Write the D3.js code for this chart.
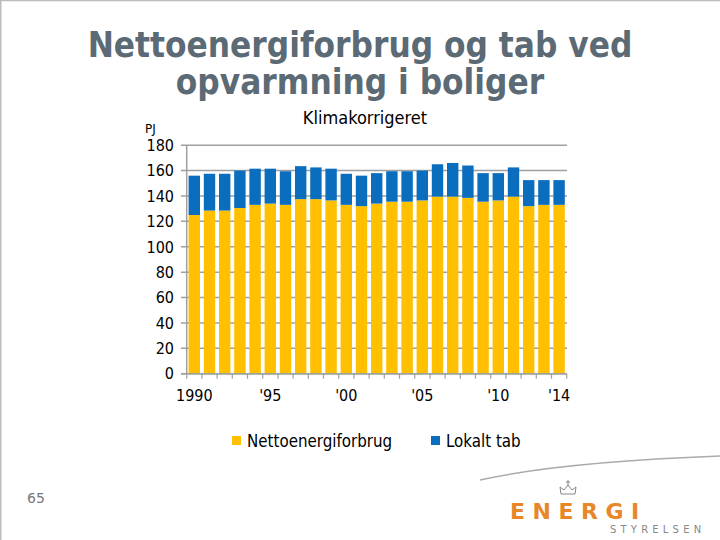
<!DOCTYPE html>
<html><head><meta charset="utf-8">
<script src="https://cdn.jsdelivr.net/npm/d3@7"></script>
<style>html,body{margin:0;padding:0;background:#fff;}svg{display:block;}</style>
</head><body>
<script>
const years = [1990,1991,1992,1993,1994,1995,1996,1997,1998,1999,2000,2001,2002,2003,2004,2005,2006,2007,2008,2009,2010,2011,2012,2013,2014];
const netto = [125,128.5,128.5,130.5,133,134,133,137.5,137.5,136.5,133,132,134,135.5,135.5,136.5,139.5,139.5,138.5,135.5,136.5,139.5,132,133,133];
const lokaltTab = [31,29,29,29.5,28.5,27.5,26.5,26,25,25,24.5,24,24,24,24,23.5,25.5,26.5,25.5,22.5,21.5,23,20.5,19.5,19.5];
const seriesNames = ["Nettoenergiforbrug","Lokalt tab"];
const seriesColors = ["#FFC000","#0B6DBE"];
const yTicks = [0,20,40,60,80,100,120,140,160,180];
const xLabels = {1990:"1990",1995:"'95",2000:"'00",2005:"'05",2010:"'10",2014:"'14"};

const W=720,H=540;
const svg=d3.select("body").append("svg").attr("width",W).attr("height",H);
svg.append("rect").attr("width",W).attr("height",H).attr("fill","#fff");
// slide border
svg.append("line").attr("x1",0).attr("x2",W).attr("y1",0.5).attr("y2",0.5).attr("stroke","#bdbdbd").attr("stroke-width",1.5);
svg.append("line").attr("x1",0.75).attr("x2",0.75).attr("y1",0).attr("y2",H).attr("stroke","#bdbdbd").attr("stroke-width",1.5);

// title
const titleFont="DejaVu Sans Condensed, DejaVu Sans";
const t1=svg.append("text").attr("x",360).attr("y",57).attr("text-anchor","middle")
  .attr("font-family",titleFont).attr("font-weight","bold").attr("font-size",30).attr("fill","#5B6A74").text("Nettoenergiforbrug og tab ved");
const w1=t1.node().getComputedTextLength();
const fs=30*545/w1;
t1.attr("font-size",fs);
svg.append("text").attr("x",360).attr("y",94).attr("text-anchor","middle")
  .attr("font-family",titleFont).attr("font-weight","bold").attr("font-size",fs).attr("fill","#5B6A74").text("opvarmning i boliger");

svg.append("text").attr("x",365).attr("y",124).attr("text-anchor","middle")
  .attr("font-family","DejaVu Sans Condensed, DejaVu Sans").attr("font-size",18).attr("fill","#000").text("Klimakorrigeret");
svg.append("text").attr("x",145).attr("y",133)
  .attr("font-family","DejaVu Sans").attr("font-size",12).attr("fill","#000").text("PJ");

const x=d3.scaleBand().domain(years).range([186.7,566.7]).paddingInner(0.25).paddingOuter(0.125);
const y=d3.scaleLinear().domain([0,180]).range([373.7,145.2]);

// gridlines
svg.append("g").selectAll("line").data(yTicks).join("line")
  .attr("x1",181).attr("x2",567).attr("y1",d=>y(d)).attr("y2",d=>y(d))
  .attr("stroke","#A0A0A0").attr("stroke-width",1.5);

// bars
const table=years.map((yr,i)=>({year:yr,n:netto[i],t:lokaltTab[i]}));
const stack=d3.stack().keys(["n","t"])(table);
svg.append("g").selectAll("g").data(stack).join("g").attr("fill",(d,i)=>seriesColors[i])
  .selectAll("rect").data(d=>d).join("rect")
  .attr("x",d=>x(d.data.year)).attr("width",x.bandwidth())
  .attr("y",d=>y(d[1])).attr("height",d=>y(d[0])-y(d[1]));

// axes lines
svg.append("line").attr("x1",186.7).attr("x2",186.7).attr("y1",y(180)).attr("y2",y(0)).attr("stroke","#A0A0A0").attr("stroke-width",1.5);
svg.append("line").attr("x1",181).attr("x2",567).attr("y1",y(0)).attr("y2",y(0)).attr("stroke","#A0A0A0").attr("stroke-width",1.5);
// x ticks at band boundaries
const bounds=years.map(yr=>x(yr)-x.step()*x.paddingInner()/2).concat([566.7]);
svg.append("g").selectAll("line").data(bounds).join("line")
  .attr("x1",d=>d).attr("x2",d=>d).attr("y1",y(0)).attr("y2",y(0)+5)
  .attr("stroke","#A0A0A0").attr("stroke-width",1.2);

// y labels
svg.append("g").selectAll("text").data(yTicks).join("text")
  .attr("x",174).attr("y",d=>y(d)).attr("dy","0.36em").attr("text-anchor","end")
  .attr("font-family","DejaVu Sans Condensed, DejaVu Sans").attr("font-size",16).attr("fill","#000").text(d=>d);
// x labels
svg.append("g").selectAll("text").data(years.filter(yr=>xLabels[yr])).join("text")
  .attr("x",d=>x(d)+x.bandwidth()/2).attr("y",401).attr("text-anchor","middle")
  .attr("font-family","DejaVu Sans Condensed, DejaVu Sans").attr("font-size",16).attr("fill","#000").text(d=>xLabels[d]);

// legend
const legX=[232,431];
const lg=svg.append("g").selectAll("g").data(seriesNames).join("g").attr("transform",(d,i)=>`translate(${legX[i]},436)`);
lg.append("rect").attr("width",9).attr("height",9).attr("fill",(d,i)=>seriesColors[i]);
lg.append("text").attr("x",15).attr("y",10.5).attr("font-family","DejaVu Sans Condensed, DejaVu Sans").attr("font-size",16.8).attr("fill","#000").text(d=>d);

// page number
svg.append("text").attr("x",27).attr("y",503).attr("font-family","DejaVu Sans").attr("font-size",14).attr("fill","#777").text("65");

// logo swoosh and text
svg.append("path").attr("d","M480,480 Q560,462 720,456").attr("fill","none").attr("stroke","#aaa").attr("stroke-width",1.5);
svg.append("text").attr("x",510).attr("y",519).attr("font-family","DejaVu Sans").attr("font-weight","bold").attr("font-size",22)
  .attr("letter-spacing",7.5).attr("fill","#E8872A").text("ENERGI");
svg.append("text").attr("x",610).attr("y",533).attr("font-family","DejaVu Sans").attr("font-size",10)
  .attr("letter-spacing",4.2).attr("fill","#888").text("STYRELSEN");
// crown
const cr=svg.append("g").attr("transform","translate(568,482)").attr("fill","none").attr("stroke","#888").attr("stroke-width",1);
cr.append("path").attr("d","M-7,12 L-8,5 L-4,8 L0,3 L4,8 L8,5 L7,12 Z");
cr.append("line").attr("x1",0).attr("x2",0).attr("y1",-2).attr("y2",3);
cr.append("line").attr("x1",-2).attr("x2",2).attr("y1",0).attr("y2",0);
</script>
</body></html>
